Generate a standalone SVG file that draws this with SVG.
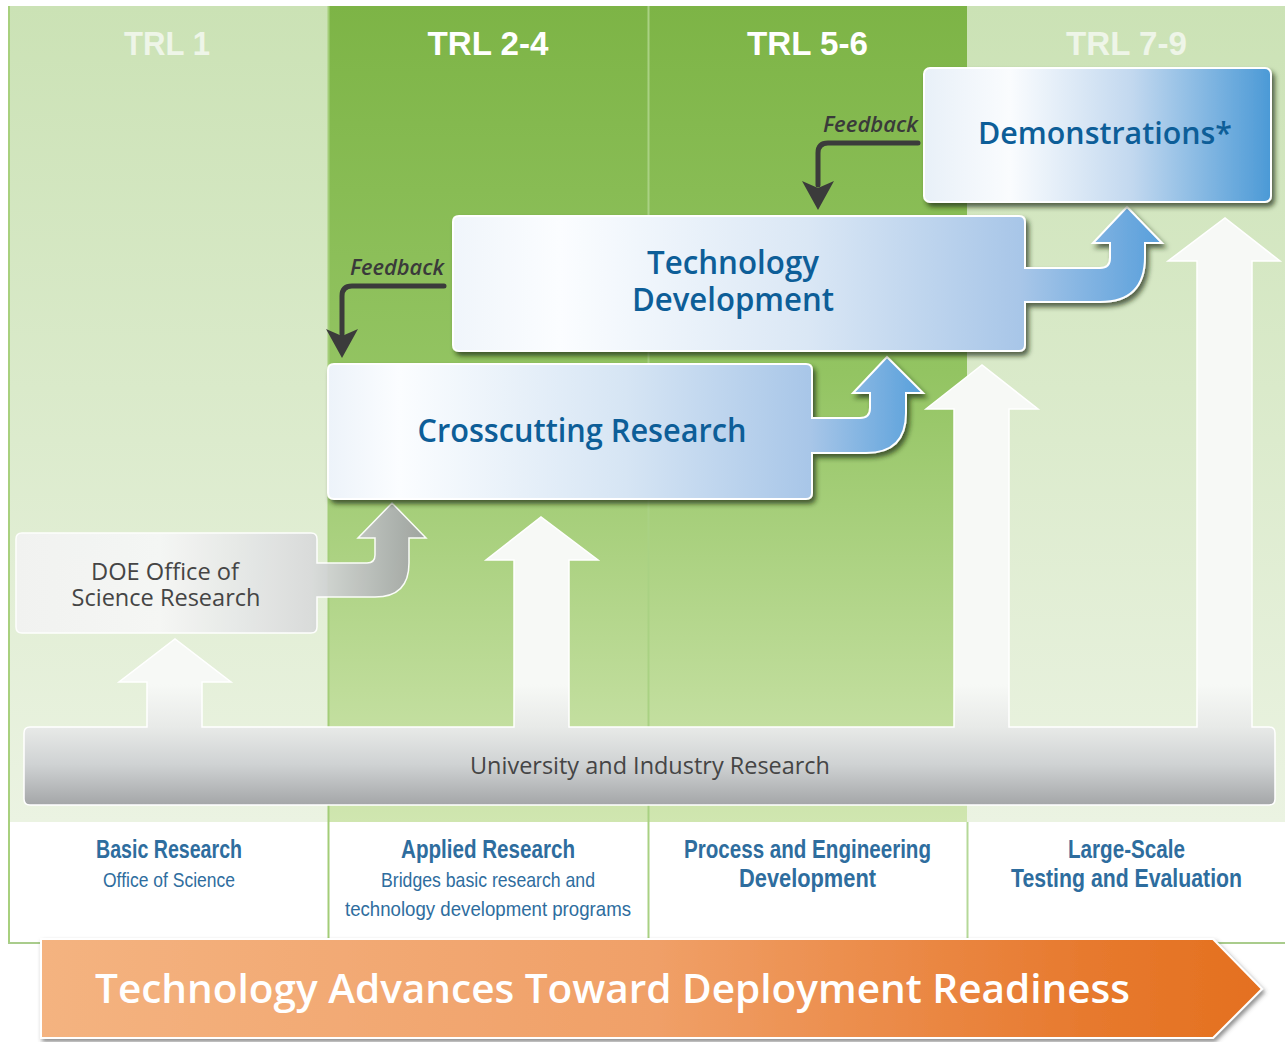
<svg xmlns="http://www.w3.org/2000/svg" width="1285" height="1042" viewBox="0 0 1285 1042">
<style>
.hdr{font-family:"Liberation Sans",Arial,sans-serif;font-weight:bold;font-size:34px;text-anchor:middle}
.box{font-family:"Open Sans","Noto Sans",sans-serif;font-weight:600;fill:#0d5e98;text-anchor:middle}
.fb{font-family:"Open Sans","Noto Sans",sans-serif;font-weight:600;font-style:italic;font-size:21px;fill:#3a3a3a;text-anchor:end}
.gray{font-family:"Open Sans","Noto Sans",sans-serif;font-size:23px;fill:#454545;text-anchor:middle}
.lb{font-family:"Liberation Sans",Arial,sans-serif;font-weight:bold;font-size:25px;fill:#2e6d9e;text-anchor:middle}
.lr{font-family:"Liberation Sans",Arial,sans-serif;font-size:21px;fill:#2e6d9e;text-anchor:middle}
.fbl{fill:none;stroke:#3b3b3b;stroke-width:5;stroke-linecap:round;stroke-linejoin:round}
</style>
<defs>
<linearGradient id="gLight" gradientUnits="userSpaceOnUse" x1="0" y1="6" x2="0" y2="822">
<stop offset="0" stop-color="#cbe2b5"/><stop offset="1" stop-color="#ebf3e2"/></linearGradient>
<linearGradient id="gDark" gradientUnits="userSpaceOnUse" x1="0" y1="6" x2="0" y2="822">
<stop offset="0" stop-color="#7db446"/><stop offset="0.45" stop-color="#93c462"/><stop offset="1" stop-color="#d0e6b0"/></linearGradient>
<linearGradient id="gCross" gradientUnits="userSpaceOnUse" x1="328" y1="0" x2="923" y2="0">
<stop offset="0" stop-color="#edf3fa"/><stop offset="0.12" stop-color="#fbfdff"/><stop offset="0.5" stop-color="#d6e5f4"/><stop offset="0.81" stop-color="#a8c6e8"/><stop offset="1" stop-color="#58a0db"/></linearGradient>
<linearGradient id="gTech" gradientUnits="userSpaceOnUse" x1="453" y1="0" x2="1162" y2="0">
<stop offset="0" stop-color="#f0f5fb"/><stop offset="0.15" stop-color="#fbfdff"/><stop offset="0.5" stop-color="#dae7f5"/><stop offset="0.8" stop-color="#a8c6e8"/><stop offset="1" stop-color="#589fdb"/></linearGradient>
<linearGradient id="gDemo" gradientUnits="userSpaceOnUse" x1="923" y1="0" x2="1272" y2="0">
<stop offset="0" stop-color="#e8f0f8"/><stop offset="0.25" stop-color="#fafcfe"/><stop offset="0.6" stop-color="#c2d8ef"/><stop offset="1" stop-color="#4a99d6"/></linearGradient>
<linearGradient id="gDoe" gradientUnits="userSpaceOnUse" x1="16" y1="0" x2="426" y2="0">
<stop offset="0" stop-color="#f2f3f2"/><stop offset="0.35" stop-color="#f6f7f6"/><stop offset="0.72" stop-color="#d9dbdb"/><stop offset="1" stop-color="#9ea2a1"/></linearGradient>
<linearGradient id="gBar" gradientUnits="userSpaceOnUse" x1="0" y1="0" x2="0" y2="805">
<stop offset="0" stop-color="#f7f9f6"/><stop offset="0.85" stop-color="#f7f9f6"/><stop offset="0.903" stop-color="#e8eae8"/><stop offset="0.95" stop-color="#cfd2d3"/><stop offset="1" stop-color="#a4a6a8"/></linearGradient>
<linearGradient id="gOrange" gradientUnits="userSpaceOnUse" x1="41" y1="0" x2="1262" y2="0">
<stop offset="0" stop-color="#f4b380"/><stop offset="0.5" stop-color="#f0a068"/><stop offset="0.85" stop-color="#e77a2f"/><stop offset="1" stop-color="#e4701f"/></linearGradient>
<filter id="sh" x="-10%" y="-10%" width="120%" height="130%">
<feDropShadow dx="3" dy="4" stdDeviation="2.5" flood-color="#1e2a14" flood-opacity="0.7"/></filter>
<filter id="sh2" x="-5%" y="-20%" width="110%" height="150%">
<feDropShadow dx="2" dy="3" stdDeviation="2" flood-color="#444" flood-opacity="0.6"/></filter>
</defs>

<rect width="1285" height="1042" fill="#ffffff"/>

<g id="background">
<rect x="8" y="6" width="320" height="816" fill="url(#gLight)"/>
<rect x="328" y="6" width="320" height="816" fill="url(#gDark)"/>
<rect x="648" y="6" width="319" height="816" fill="url(#gDark)"/>
<rect x="967" y="6" width="318" height="816" fill="url(#gLight)"/>
<rect x="8" y="822" width="1277" height="121" fill="#ffffff"/>
<line x1="9" y1="6" x2="9" y2="943" stroke="#a8d07e" stroke-width="2"/>
<line x1="328.5" y1="6" x2="328.5" y2="943" stroke="#a3cd78" stroke-width="2"/>
<line x1="648.5" y1="6" x2="648.5" y2="943" stroke="#a9d183" stroke-width="2"/>
<line x1="967.5" y1="822" x2="967.5" y2="943" stroke="#b5d898" stroke-width="2"/>
<line x1="8" y1="943" x2="1285" y2="943" stroke="#a9cc8c" stroke-width="2"/>
</g>

<g id="headers">
<text class="hdr" x="167" y="55" fill="#eef5e8" textLength="86" lengthAdjust="spacingAndGlyphs">TRL 1</text>
<text class="hdr" x="488" y="55" fill="#ffffff" textLength="121" lengthAdjust="spacingAndGlyphs">TRL 2-4</text>
<text class="hdr" x="807.5" y="55" fill="#ffffff" textLength="121" lengthAdjust="spacingAndGlyphs">TRL 5-6</text>
<text class="hdr" x="1126.5" y="55" fill="#eef5e8" textLength="121" lengthAdjust="spacingAndGlyphs">TRL 7-9</text>
</g>

<g id="university">
<path d="M24,733 Q24,727 30,727 H147 V682 H119 L175,639 L231,682 H202 V727 H514 V560 H486 L541,517 L598,560 H569 V727 H954 V409 H926 L982,365 L1038,409 H1009 V727 H1197 V261 H1168 L1225,218 L1280,261 H1252 V727 H1269 Q1275,727 1275,733 V799 Q1275,805 1269,805 H30 Q24,805 24,799 Z" fill="url(#gBar)" stroke="#ffffff" stroke-width="1.5"/>
<text class="gray" x="650" y="774" textLength="360" lengthAdjust="spacingAndGlyphs" fill="#4f4f4f">University and Industry Research</text>
</g>

<g id="connectors">
<path class="fbl" d="M444,286 H352 Q342,286 342,296 V334"/>
<polygon points="326,329 342,336 358,329 342,358" fill="#3b3b3b"/>
<path class="fbl" d="M918,143 H828 Q818,143 818,153 V185"/>
<polygon points="802,181 818,188 834,181 818,210" fill="#3b3b3b"/>
</g>

<g id="feedback-labels">
<text class="fb" x="444" y="275" textLength="94" lengthAdjust="spacingAndGlyphs">Feedback</text>
<text class="fb" x="918" y="132" textLength="95" lengthAdjust="spacingAndGlyphs">Feedback</text>
</g>

<g id="doe">
<path d="M22,533 H311 Q317,533 317,539 V563 H367 Q375,563 375,555 V538 H358 L392,503 L426,538 H409 V563 Q409,597 375,597 H317 V627 Q317,633 311,633 H22 Q16,633 16,627 V539 Q16,533 22,533 Z" fill="url(#gDoe)" stroke="#ffffff" stroke-width="1.5" opacity="0.95"/>
<text class="gray" x="165" y="580" font-size="22" textLength="148" lengthAdjust="spacingAndGlyphs">DOE Office of</text>
<text class="gray" x="166" y="606" font-size="22" textLength="189" lengthAdjust="spacingAndGlyphs">Science Research</text>
</g>

<g id="crosscutting">
<path d="M334,364 H806 Q812,364 812,370 V418 H860 Q870,418 870,408 V393 H853 L887,357 L923,393 H906 V413 Q906,453 866,453 H812 V493 Q812,499 806,499 H334 Q328,499 328,493 V370 Q328,364 334,364 Z" fill="url(#gCross)" stroke="#ffffff" stroke-width="2" filter="url(#sh)"/>
<text class="box" x="582" y="442" font-size="32" textLength="329" lengthAdjust="spacingAndGlyphs">Crosscutting Research</text>
</g>

<g id="techdev">
<path d="M459,216 H1019 Q1025,216 1025,222 V268 H1100 Q1110,268 1110,258 V243 H1093 L1127,207 L1162,243 H1145 V257 Q1145,302 1100,302 H1025 V345 Q1025,351 1019,351 H459 Q453,351 453,345 V222 Q453,216 459,216 Z" fill="url(#gTech)" stroke="#ffffff" stroke-width="2" filter="url(#sh)"/>
<text class="box" x="733" y="274" font-size="32" textLength="172" lengthAdjust="spacingAndGlyphs">Technology</text>
<text class="box" x="733" y="311" font-size="32" textLength="202" lengthAdjust="spacingAndGlyphs">Development</text>
</g>

<g id="demonstrations">
<rect x="924" y="68" width="347" height="134" rx="6" fill="url(#gDemo)" stroke="#ffffff" stroke-width="2" filter="url(#sh)"/>
<text class="box" x="1105" y="144" font-size="31" textLength="254" lengthAdjust="spacingAndGlyphs">Demonstrations*</text>
</g>

<g id="labels">
<text class="lb" x="169" y="858" textLength="146" lengthAdjust="spacingAndGlyphs">Basic Research</text>
<text class="lr" x="169" y="887" textLength="132" lengthAdjust="spacingAndGlyphs">Office of Science</text>
<text class="lb" x="488" y="858" textLength="174" lengthAdjust="spacingAndGlyphs">Applied Research</text>
<text class="lr" x="488" y="887" textLength="214" lengthAdjust="spacingAndGlyphs">Bridges basic research and</text>
<text class="lr" x="488" y="916" textLength="286" lengthAdjust="spacingAndGlyphs">technology development programs</text>
<text class="lb" x="807.5" y="858" textLength="247" lengthAdjust="spacingAndGlyphs">Process and Engineering</text>
<text class="lb" x="807.5" y="887" textLength="137" lengthAdjust="spacingAndGlyphs">Development</text>
<text class="lb" x="1126.5" y="858" textLength="117" lengthAdjust="spacingAndGlyphs">Large-Scale</text>
<text class="lb" x="1126.5" y="887" textLength="231" lengthAdjust="spacingAndGlyphs">Testing and Evaluation</text>
</g>

<g id="advance-arrow">
<path d="M41,939 H1213 L1262,989 L1213,1038 H41 Z" fill="url(#gOrange)" stroke="#ffffff" stroke-width="2" filter="url(#sh2)"/>
<text x="95" y="1003" font-family="'Open Sans','Noto Sans',sans-serif" font-weight="600" font-size="40" fill="#ffffff" textLength="1035" lengthAdjust="spacingAndGlyphs">Technology Advances Toward Deployment Readiness</text>
</g>
</svg>
